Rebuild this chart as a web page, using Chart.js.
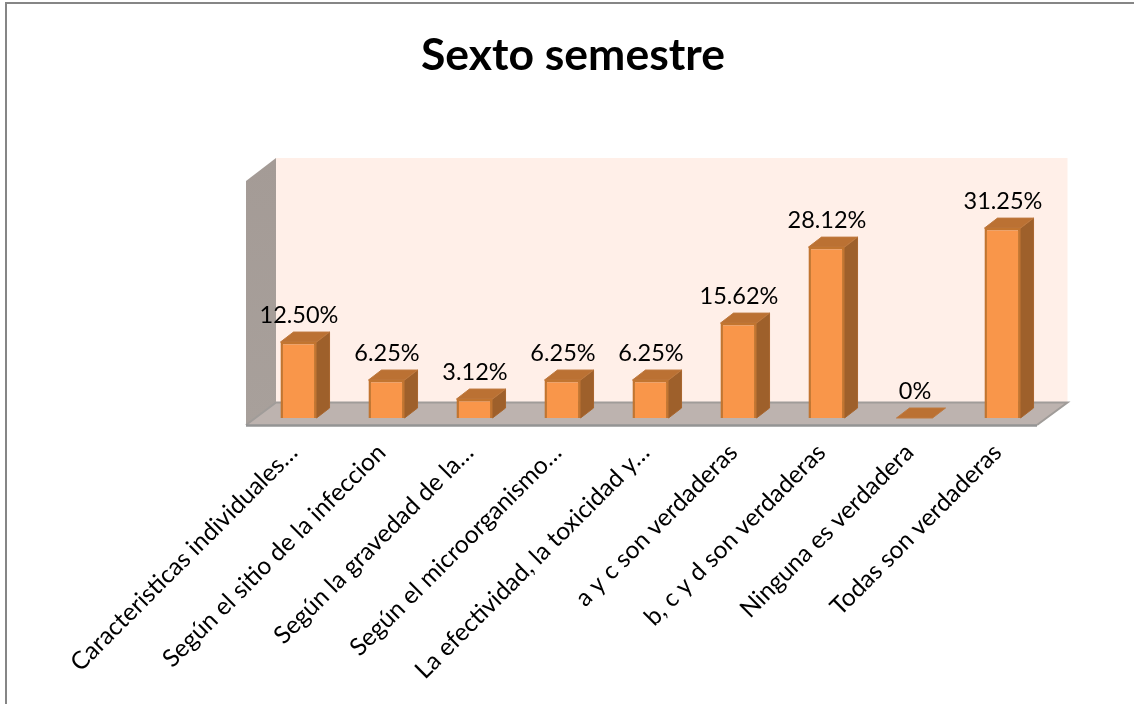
<!DOCTYPE html>
<html><head><meta charset="utf-8">
<style>html,body{margin:0;padding:0;background:#fff}canvas{display:block}</style>
<script src="https://cdn.jsdelivr.net/npm/chart.js@4"></script>
</head><body><canvas id="c" width="1134" height="704"></canvas>
<script>
const categories = ["Caracteristicas individuales…","Según el sitio de la infeccion","Según la gravedad de la…","Según el microorganismo…","La efectividad, la toxicidad y…","a y c son verdaderas","b, c y d son verdaderas","Ninguna es verdadera","Todas son verdaderas"];
const percentages = [12.5,6.25,3.12,6.25,6.25,15.62,28.12,0,31.25];
const valueLabels = ["12.50%","6.25%","3.12%","6.25%","6.25%","15.62%","28.12%","0%","31.25%"];
const chartTitle = "Sexto semestre";
const FONT = "Lato, 'Open Sans', sans-serif";

function poly(ctx, pts, fill, stroke, lw){
  ctx.beginPath();
  pts.forEach((p,i)=> i?ctx.lineTo(p[0],p[1]):ctx.moveTo(p[0],p[1]));
  ctx.closePath();
  if(fill){ctx.fillStyle=fill;ctx.fill();}
  if(stroke){ctx.strokeStyle=stroke;ctx.lineWidth=lw||1;ctx.stroke();}
}
const scene = {
  id:'scene',
  beforeDraw(chart){
    const c=chart.ctx,W=chart.width,H=chart.height;
    c.save();
    c.fillStyle='#fff';c.fillRect(0,0,W,H);
    c.fillStyle='#868686';c.fillRect(5,2,W-5,2);c.fillRect(5,2,2,H-2);
    c.restore();
  },
  beforeDatasetsDraw(chart){
    const c=chart.ctx,a=chart.chartArea,y0=chart.scales.y.getPixelForValue(0);
    const fl=a.left-8.5, fr=a.right-9.5, bl=fl+30, br=fr+30.5;
    const fy=y0+7, by=y0-15.5, wt=a.top-23;
    c.save();
    poly(c,[[bl,wt],[br,wt],[br,by],[bl,by]],'#FFEFE8');
    const g=c.createLinearGradient(0,wt,0,fy);
    g.addColorStop(0,'#A49B96');g.addColorStop(1,'#A8A09B');
    poly(c,[[fl,a.top],[bl,wt],[bl,by],[fl,fy]],g);
    poly(c,[[fl,fy],[bl,by],[br,by],[fr,fy]],'#BDB3AF');
    c.strokeStyle='#A09C99';c.lineWidth=2;
    c.beginPath();c.moveTo(bl,by);c.lineTo(br,by);c.lineTo(fr,fy);c.moveTo(bl,by);c.lineTo(fl,fy);c.stroke();
    c.strokeStyle='#949494';c.lineWidth=2.5;
    c.beginPath();c.moveTo(fl,fy+.5);c.lineTo(fr,fy+.5);c.stroke();
    c.restore();
    const dx=13,dy=-10;
    c.save();
    chart.getDatasetMeta(0).data.forEach(b=>{
      const l=b.x-b.width/2,r=b.x+b.width/2,t=b.y,bt=b.base;
      if(bt-t>0.5) poly(c,[[r,t],[r+dx,t+dy],[r+dx,bt+dy],[r,bt]],'#9E602B','#A8662E',1);
      poly(c,[[l,t],[r,t],[r+dx,t+dy],[l+dx,t+dy]],'#BB7133','#BF7A40',1);
    });
    c.restore();
  },
  afterDatasetsDraw(chart){
    const c=chart.ctx;
    c.save();
    c.fillStyle='#000';c.font="23.5px "+FONT;c.textAlign='center';c.textBaseline='alphabetic';
    chart.getDatasetMeta(0).data.forEach((b,i)=>{
      c.fillText(valueLabels[i],b.x+0.5,b.y-19);
    });
    c.restore();
  }
};
new Chart(document.getElementById('c'),{
  type:'bar',
  data:{labels:categories,datasets:[{
    data:percentages,
    backgroundColor:'#F9964A',
    borderColor:'#C27530',
    borderWidth:percentages.map(v=>v>0?2.5:0),
    barPercentage:0.41,categoryPercentage:1
  }]},
  options:{
    responsive:false,animation:false,
    layout:{autoPadding:false,padding:{left:12,right:0,top:0,bottom:0}},
    plugins:{
      legend:{display:false},tooltip:{enabled:false},
      title:{display:true,text:chartTitle,color:'#000',
        font:{family:FONT,size:44.5,weight:'bold',lineHeight:1.2},
        padding:{top:29,bottom:98.6}}
    },
    scales:{
      x:{grid:{display:false},border:{display:false},
        afterFit(s){s.height=286;},
        ticks:{autoSkip:false,minRotation:45,maxRotation:45,color:'#000',padding:12,labelOffset:-5,
          font:{family:FONT,size:24.5}}},
      y:{position:'left',min:0,max:39,grid:{display:false},border:{display:false},
        afterFit(s){s.width=242.5;},ticks:{display:false}},
      yr:{position:'right',min:0,max:39,grid:{display:false},border:{display:false},
        afterFit(s){s.width=87.5;},ticks:{display:false}}
    }
  },
  plugins:[scene]
});
</script></body></html>
